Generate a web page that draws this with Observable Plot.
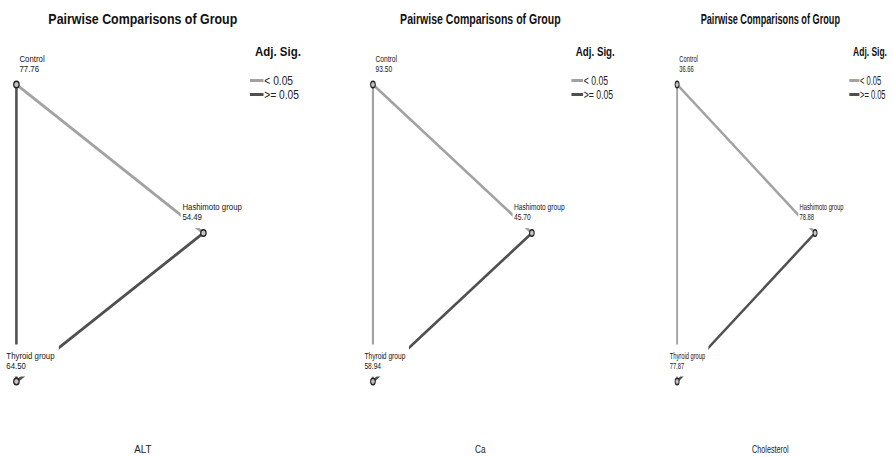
<!DOCTYPE html>
<html>
<head>
<meta charset="utf-8">
<script src="https://cdn.jsdelivr.net/npm/d3@7"></script>
<script src="https://cdn.jsdelivr.net/npm/@observablehq/plot@0.6"></script>
<style>
  html, body { margin: 0; padding: 0; background: #fff; }
  #chart { position: relative; width: 893px; height: 457px; overflow: hidden; background: #fff;
           font-family: "Liberation Sans", Arial, sans-serif; color: #111; }
  .panel { position: absolute; top: 0; width: 423px; height: 457px; transform-origin: 0 0; }
  .panel svg { position: absolute; left: 0; top: 0; }
  .ttl { position: absolute; left: 0; width: 336px; top: 12px; text-align: center;
         font-weight: bold; font-size: 14.6px; line-height: 14.6px; white-space: nowrap; }
  .lgt { position: absolute; left: 300px; top: 45.4px; font-weight: bold; font-size: 13.5px;
         line-height: 13.5px; white-space: nowrap; }
  .lgr { position: absolute; left: 294px; font-size: 12px; line-height: 12px; white-space: nowrap; color: #222; }
  .sw { display: inline-block; width: 16px; height: 3px; vertical-align: middle; margin-right: 1px; position: relative; top: -1px; }
  .cap { position: absolute; left: 0; width: 336px; top: 443.5px; text-align: center; font-size: 11.5px;
         line-height: 11.5px; white-space: nowrap; color: #222; }
</style>
</head>
<body>
<div id="chart"></div>
<script>
// ---- data ----
const chartTitle = "Pairwise Comparisons of Group";
const legendTitle = "Adj. Sig.";
const sigLevels = ["< 0.05", ">= 0.05"];
const groups = ["Control", "Hashimoto group", "Thyroid group"];
const pairs = [["Control", "Hashimoto group"], ["Control", "Thyroid group"], ["Hashimoto group", "Thyroid group"]];
const captions = ["ALT", "Ca", "Cholesterol"];
const altRanks = [77.76, 54.49, 64.50];
const caRanks = [93.50, 45.70, 58.94];
const cholRanks = [36.66, 78.88, 77.87];
const altSig = ["< 0.05", ">= 0.05", ">= 0.05"];
const caSig = ["< 0.05", "< 0.05", ">= 0.05"];
const cholSig = ["< 0.05", "< 0.05", ">= 0.05"];

// ---- layout (network positions in abstract layout units) ----
const nodeLayout = {"Control": [0, 1], "Hashimoto group": [1, 0.5], "Thyroid group": [0, 0]};
const labelDx = {"Control": 3.6, "Hashimoto group": -24.7, "Thyroid group": -11.8};
const sigColors = ["#a2a2a2", "#505050"];
const labelSize = 9.2;
const fontFamily = "'Liberation Sans', Arial, sans-serif";

// text width measurement for the white label boxes that occlude the edges
const mctx = document.createElement("canvas").getContext("2d");
mctx.font = `${labelSize}px 'Liberation Sans', Arial, sans-serif`;
const labelBox = g => {
  const w = mctx.measureText(g).width;
  const x0 = labelDx[g] - 2, x1 = labelDx[g] + w + 5;
  return {draw(ctx) { ctx.rect(x0, -37, x1 - x0, 32); }};
};

const panelSpecs = [
  {ranks: altRanks, sigs: altSig, caption: captions[0], left: 0, scale: 0.85},
  {ranks: caRanks, sigs: caSig, caption: captions[1], left: 359.4, scale: 0.7225},
  {ranks: cholRanks, sigs: cholSig, caption: captions[2], left: 665.2, scale: 0.627}
];

const chart = document.getElementById("chart");

panelSpecs.forEach(spec => {
  const panel = document.createElement("div");
  panel.className = "panel";
  panel.style.left = spec.left + "px";
  panel.style.transform = `scaleX(${spec.scale})`;

  const nodes = groups.map((g, i) => ({group: g, rank: spec.ranks[i].toFixed(2), x: nodeLayout[g][0], y: nodeLayout[g][1]}));
  const edges = pairs.map(([a, b], i) => ({
    x1: nodeLayout[a][0], y1: nodeLayout[a][1], x2: nodeLayout[b][0], y2: nodeLayout[b][1], sig: spec.sigs[i]
  }));

  const boxMarks = groups.map(g => Plot.dot(nodes.filter(n => n.group === g), {
    x: "x", y: "y", r: 1, symbol: labelBox(g), fill: "white", stroke: "none"
  }));
  const labelMarks = groups.map(g => Plot.text(nodes.filter(n => n.group === g), {
    x: "x", y: "y", text: d => `${d.group}\n${d.rank}`,
    textAnchor: "start", lineAnchor: "bottom", lineHeight: 1.12, fontSize: labelSize,
    dx: labelDx[g], dy: -12.6, fill: "#151515"
  }));

  const svg = Plot.plot({
    width: 423, height: 457, margin: 0,
    x: {domain: [0, 1], range: [18.8, 238.8], axis: null},
    y: {domain: [0, 1], range: [381, 84], axis: null},
    color: {domain: sigLevels, range: sigColors},
    style: {fontFamily, background: "transparent", overflow: "visible"},
    marks: [
      Plot.link(edges, {x1: "x1", y1: "y1", x2: "x2", y2: "y2", stroke: "sig", strokeWidth: 3}),
      ...boxMarks,
      ...labelMarks,
      Plot.dot(nodes, {x: "x", y: "y", r: 3.2, fill: "#c4c4c4", stroke: "#222", strokeWidth: 1.4})
    ]
  });
  panel.appendChild(svg);

  const t = document.createElement("div");
  t.className = "ttl"; t.textContent = chartTitle; panel.appendChild(t);

  const lt = document.createElement("div");
  lt.className = "lgt"; lt.textContent = legendTitle; panel.appendChild(lt);

  sigLevels.forEach((lvl, i) => {
    const r = document.createElement("div");
    r.className = "lgr";
    r.style.top = (75 + i * 14) + "px";
    const sw = document.createElement("span");
    sw.className = "sw"; sw.style.background = sigColors[i];
    r.appendChild(sw);
    r.appendChild(document.createTextNode(lvl));
    panel.appendChild(r);
  });

  const c = document.createElement("div");
  c.className = "cap"; c.textContent = spec.caption; panel.appendChild(c);

  chart.appendChild(panel);
});
</script>
</body>
</html>
